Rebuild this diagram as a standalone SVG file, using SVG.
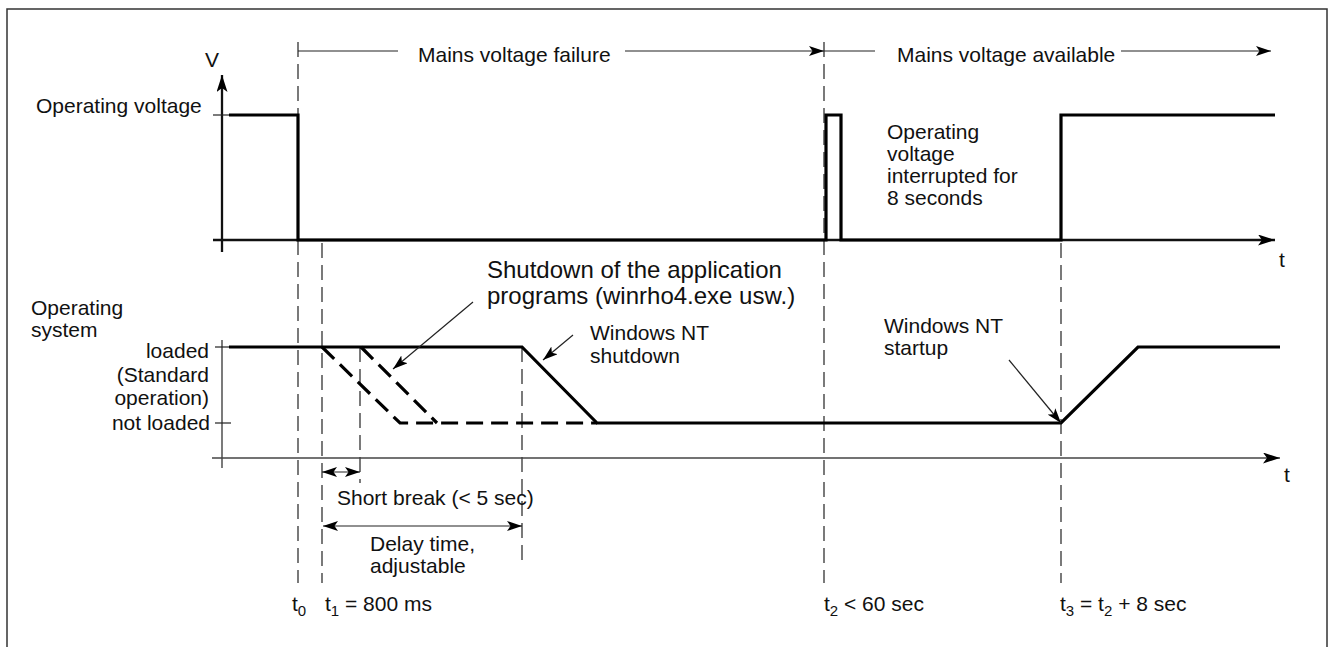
<svg xmlns="http://www.w3.org/2000/svg" width="1334" height="647" viewBox="0 0 1334 647">
<defs>
<style>
text{font-family:"Liberation Sans",Arial,sans-serif;font-size:21px;fill:#111}
.big{font-size:24px}
.sub{font-size:15px}
.axis{stroke:#111;stroke-width:2.3;fill:none}
.axis2{stroke:#444;stroke-width:1.7;fill:none}
.sig{stroke:#000;stroke-width:3.2;fill:none;stroke-linejoin:miter}
.sigd{stroke:#000;stroke-width:3.2;fill:none;stroke-dasharray:17 8}
.guide{stroke:#333;stroke-width:1.3;fill:none;stroke-dasharray:15 7}
.thin{stroke:#222;stroke-width:1.2;fill:none}
</style>
<marker id="ah" markerWidth="17" markerHeight="11" refX="17" refY="5.5" orient="auto-start-reverse" markerUnits="userSpaceOnUse"><path d="M0,0 L17,5.5 L0,11 L4,5.5 z" fill="#000"/></marker>
<marker id="as" markerWidth="15" markerHeight="10" refX="15" refY="5" orient="auto-start-reverse" markerUnits="userSpaceOnUse"><path d="M0,0 L15,5 L0,10 L3.5,5 z" fill="#000"/></marker>
</defs>
<rect x="7" y="9" width="1320" height="660" fill="#fff" stroke="#333" stroke-width="1.5"/>

<g id="guides">
<line class="guide" x1="298" y1="42" x2="298" y2="583"/>
<line class="guide" x1="322" y1="243" x2="322" y2="583"/>
<line class="guide" x1="360" y1="347" x2="360" y2="483"/>
<line class="guide" x1="522" y1="347" x2="522" y2="560"/>
<line class="guide" x1="824" y1="42" x2="824" y2="583"/>
<line class="guide" x1="1061" y1="243" x2="1061" y2="583"/>
</g>

<g id="top-chart">
<line class="axis" x1="222" y1="252" x2="222" y2="75" marker-end="url(#ah)"/>
<line class="axis" x1="213" y1="240" x2="1275" y2="240" marker-end="url(#ah)"/>
<line class="thin" x1="213" y1="115" x2="229" y2="115"/>
<text x="205" y="67">V</text>
<text x="1279" y="267">t</text>
<text x="36" y="113">Operating voltage</text>
<path class="sig" d="M229,115 H298 V240 H826 V115 H841 V240 H1061 V115 H1275"/>
<text x="887" y="139">Operating</text>
<text x="887" y="161">voltage</text>
<text x="887" y="183">interrupted for</text>
<text x="887" y="205">8 seconds</text>
</g>

<g id="mains">
<line class="thin" x1="298" y1="51" x2="398" y2="51"/>
<text x="418" y="62">Mains voltage failure</text>
<line class="thin" x1="625" y1="51" x2="824" y2="51" marker-end="url(#as)"/>
<line class="thin" x1="824" y1="51" x2="875" y2="51"/>
<text x="897" y="62">Mains voltage available</text>
<line class="thin" x1="1121" y1="51" x2="1271" y2="51" marker-end="url(#as)"/>
</g>

<g id="bottom-chart">
<line class="thin" x1="222" y1="340" x2="222" y2="468"/>
<line class="axis2" x1="212" y1="458" x2="1280" y2="458" marker-end="url(#ah)"/>
<line class="thin" x1="215" y1="347" x2="229" y2="347"/>
<line class="thin" x1="215" y1="423" x2="231" y2="423"/>
<text x="1284" y="482">t</text>
<text x="31" y="315">Operating</text>
<text x="31" y="337">system</text>
<text x="209" y="358" text-anchor="end">loaded</text>
<text x="209" y="382" text-anchor="end">(Standard</text>
<text x="209" y="405" text-anchor="end">operation)</text>
<text x="210" y="430" text-anchor="end">not loaded</text>
<path class="sig" d="M229,347 H522 L597,423 H1061 L1138,347 H1280"/>
<path class="sigd" d="M322,347 L400,423 H597"/>
<path class="sigd" d="M361,347 L437,423"/>
</g>

<g id="labels">
<text class="big" x="487" y="278">Shutdown of the application</text>
<text class="big" x="487" y="304">programs (winrho4.exe usw.)</text>
<line class="thin" x1="473" y1="302" x2="393" y2="369" marker-end="url(#as)"/>
<text x="590" y="340">Windows NT</text>
<text x="590" y="363">shutdown</text>
<line class="thin" x1="573" y1="335" x2="543" y2="360" marker-end="url(#as)"/>
<text x="884" y="333">Windows NT</text>
<text x="884" y="355">startup</text>
<line class="thin" x1="1009" y1="360" x2="1061" y2="423" marker-end="url(#as)"/>
</g>

<g id="durations">
<line class="thin" x1="322" y1="472" x2="360" y2="472" marker-start="url(#as)" marker-end="url(#as)"/>
<text x="337" y="505">Short break (&lt; 5 sec)</text>
<line class="thin" x1="323" y1="526" x2="522" y2="526" marker-start="url(#as)" marker-end="url(#as)"/>
<text x="370" y="551">Delay time,</text>
<text x="370" y="573">adjustable</text>
</g>

<g id="time-labels">
<text x="292" y="611">t<tspan class="sub" dy="5">0</tspan></text>
<text x="325" y="611">t<tspan class="sub" dy="5">1</tspan><tspan dy="-5"> = 800 ms</tspan></text>
<text x="824" y="611">t<tspan class="sub" dy="5">2</tspan><tspan dy="-5"> &lt; 60 sec</tspan></text>
<text x="1060" y="611">t<tspan class="sub" dy="5">3</tspan><tspan dy="-5"> = t</tspan><tspan class="sub" dy="5">2</tspan><tspan dy="-5"> + 8 sec</tspan></text>
</g>
</svg>
